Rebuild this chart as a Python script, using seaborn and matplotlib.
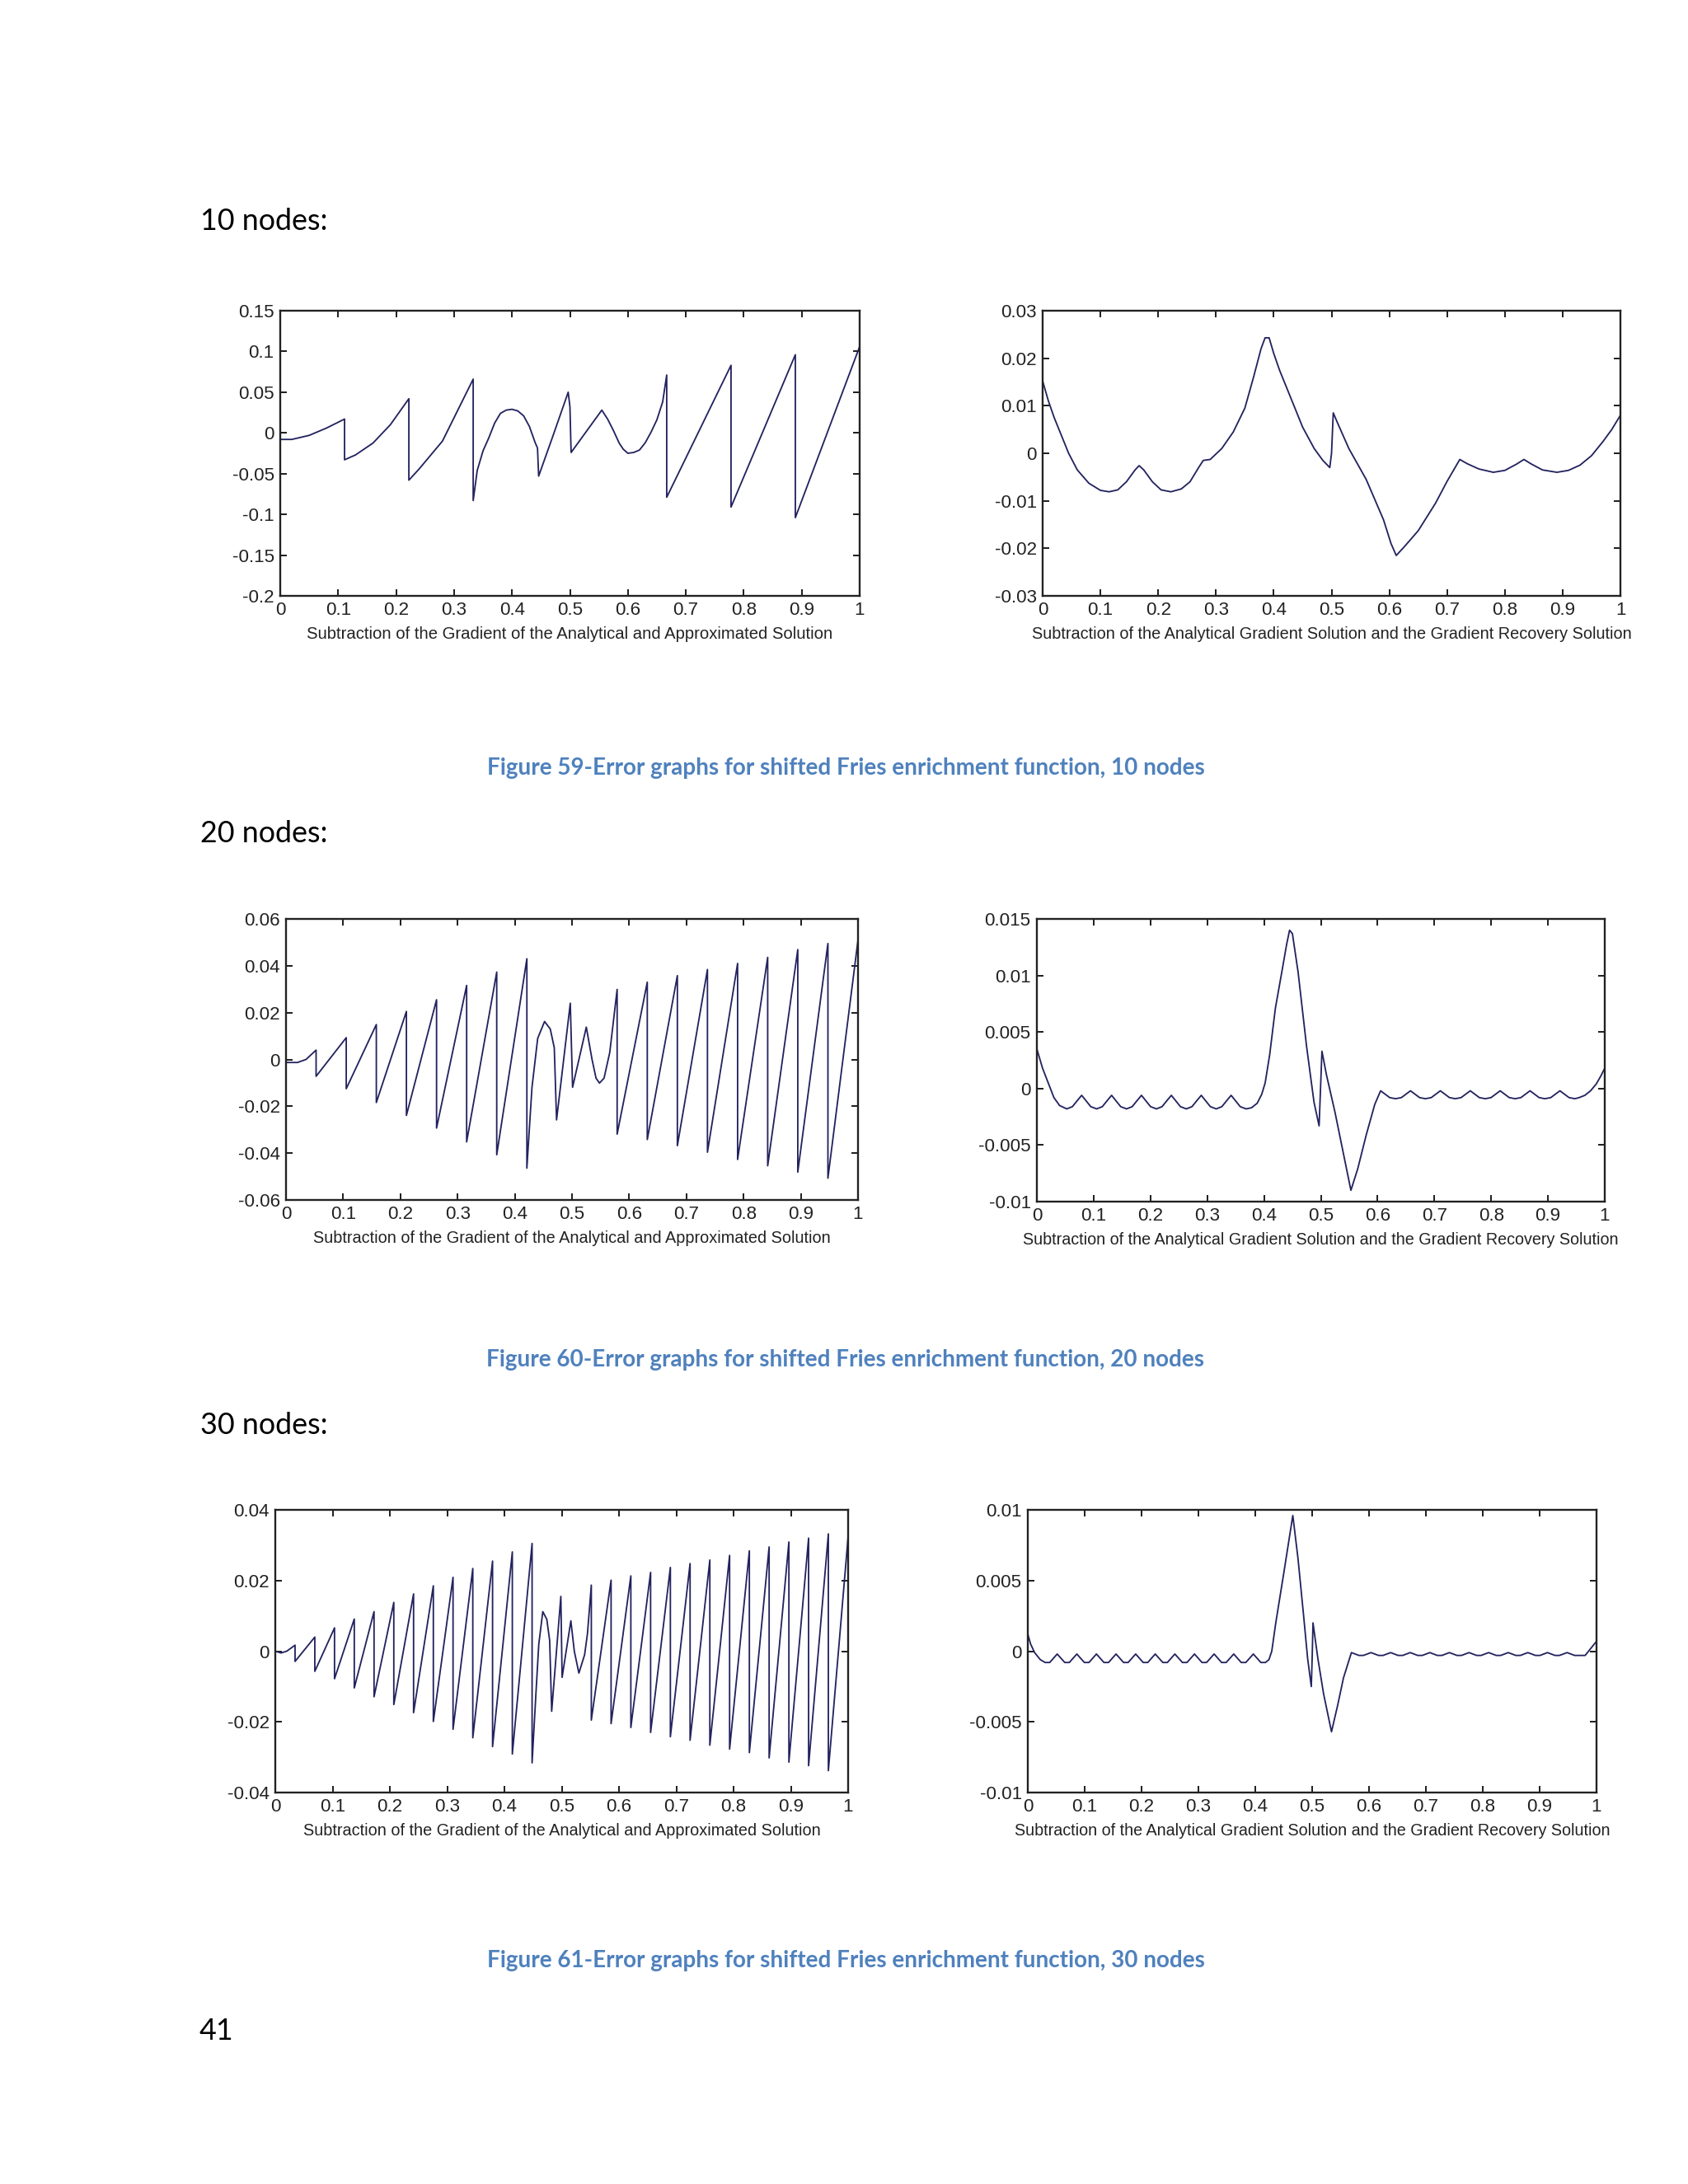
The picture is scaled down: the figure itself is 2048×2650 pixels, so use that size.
import numpy as np
import matplotlib
matplotlib.use("Agg")
import matplotlib.pyplot as plt
import seaborn as sns

# values (x, error)
grad_10 = [
    (0.0, -0.008), (0.02, -0.008), (0.05, -0.003), (0.08, 0.006), (0.111, 0.017),
    (0.111, -0.033), (0.13, -0.027), (0.16, -0.0125), (0.19, 0.01), (0.222, 0.042),
    (0.222, -0.058), (0.24, -0.044), (0.28, -0.01), (0.333, 0.066),
    (0.333, -0.083), (0.34, -0.046), (0.35, -0.022), (0.36, -0.006), (0.37, 0.012),
    (0.38, 0.024), (0.39, 0.028), (0.40, 0.029), (0.41, 0.027), (0.42, 0.021),
    (0.43, 0.008), (0.44, -0.012), (0.444, -0.0185),
    (0.446, -0.053), (0.47, -0.005), (0.497, 0.05), (0.5, 0.032), (0.502, -0.024),
    (0.555, 0.028), (0.565, 0.017), (0.575, 0.003), (0.585, -0.0125), (0.592, -0.02),
    (0.60, -0.025), (0.61, -0.024), (0.62, -0.021), (0.63, -0.012),
    (0.64, 0.001), (0.65, 0.016), (0.66, 0.038), (0.667, 0.071),
    (0.667, -0.079), (0.778, 0.083), (0.778, -0.091), (0.889, 0.096),
    (0.889, -0.104), (1.0, 0.106),
]

recov_10 = [
    (0.0, 0.0152), (0.01, 0.011), (0.02, 0.0075), (0.03, 0.0045), (0.045, 0.0),
    (0.06, -0.0035), (0.08, -0.0063), (0.10, -0.0078), (0.115, -0.0081), (0.13, -0.0077),
    (0.145, -0.006), (0.16, -0.0035), (0.167, -0.0026), (0.175, -0.0035), (0.19, -0.006),
    (0.205, -0.0077), (0.222, -0.0081), (0.24, -0.0075), (0.255, -0.006), (0.27, -0.003),
    (0.278, -0.0015), (0.29, -0.0013), (0.31, 0.001), (0.33, 0.0045), (0.35, 0.0095),
    (0.365, 0.016), (0.378, 0.022), (0.385, 0.0243), (0.392, 0.0243), (0.40, 0.021),
    (0.41, 0.0175), (0.43, 0.0115), (0.45, 0.0055), (0.47, 0.001), (0.485, -0.0015),
    (0.497, -0.003), (0.50, 0.0), (0.503, 0.0085), (0.51, 0.0065), (0.53, 0.001),
    (0.56, -0.0055), (0.59, -0.014), (0.603, -0.019), (0.612, -0.0215), (0.625, -0.0198),
    (0.65, -0.0163), (0.68, -0.0105), (0.70, -0.0059), (0.722, -0.0013), (0.735, -0.0022),
    (0.755, -0.0033), (0.78, -0.004), (0.80, -0.0036), (0.82, -0.0023), (0.833, -0.0013),
    (0.845, -0.0022), (0.865, -0.0035), (0.89, -0.004), (0.91, -0.0036), (0.93, -0.0025),
    (0.95, -0.0005), (0.97, 0.0025), (0.985, 0.005), (1.0, 0.008),
]

grad_20 = [
    (0.0, -0.0013), (0.02, -0.0013), (0.035, 0.0), (0.0526, 0.004),
    (0.0526, -0.0072), (0.1053, 0.0093), (0.1053, -0.0125), (0.1579, 0.0149),
    (0.1579, -0.0184), (0.2105, 0.0205), (0.2105, -0.0239), (0.2632, 0.0255),
    (0.2632, -0.0293), (0.3158, 0.0316), (0.3158, -0.0352), (0.3684, 0.0373),
    (0.3684, -0.0407), (0.4211, 0.043), (0.4211, -0.0464),
    (0.43, -0.012), (0.44, 0.009), (0.452, 0.0162), (0.462, 0.013), (0.469, 0.005),
    (0.473, -0.0258), (0.497, 0.024), (0.501, -0.0119), (0.525, 0.0138),
    (0.535, 0.0), (0.542, -0.008), (0.548, -0.0101), (0.556, -0.008), (0.566, 0.003),
    (0.5789, 0.0299), (0.5789, -0.0319), (0.6316, 0.033), (0.6316, -0.0342),
    (0.6842, 0.0358), (0.6842, -0.0368), (0.7368, 0.0384), (0.7368, -0.0396),
    (0.7895, 0.041), (0.7895, -0.0427), (0.8421, 0.0436), (0.8421, -0.0454),
    (0.8947, 0.0469), (0.8947, -0.0481), (0.9474, 0.0495), (0.9474, -0.0507),
    (1.0, 0.051),
]

recov_20 = [
    (0.0, 0.0035), (0.01, 0.0018), (0.02, 0.0005), (0.03, -0.0008), (0.04, -0.0015),
    (0.0526, -0.0018), (0.0626, -0.0016), (0.0706, -0.0011), (0.0789, -0.0006),
    (0.0869, -0.0011), (0.0949, -0.0016), (0.1053, -0.0018), (0.1153, -0.0016),
    (0.1233, -0.0011), (0.1316, -0.0006), (0.1396, -0.0011), (0.1476, -0.0016),
    (0.1579, -0.0018), (0.1679, -0.0016), (0.1759, -0.0011), (0.1842, -0.0006),
    (0.1922, -0.0011), (0.2002, -0.0016), (0.2105, -0.0018), (0.2205, -0.0016),
    (0.2285, -0.0011), (0.2368, -0.0006), (0.2448, -0.0011), (0.2528, -0.0016),
    (0.2632, -0.0018), (0.2732, -0.0016), (0.2812, -0.0011), (0.2895, -0.0006),
    (0.2975, -0.0011), (0.3055, -0.0016), (0.3158, -0.0018), (0.3258, -0.0016),
    (0.3338, -0.0011), (0.3421, -0.0006), (0.3501, -0.0011), (0.3581, -0.0016),
    (0.3684, -0.0018), (0.378, -0.0017), (0.388, -0.0013), (0.396, -0.0005),
    (0.402, 0.0005), (0.41, 0.003), (0.42, 0.0071), (0.432, 0.0105), (0.44, 0.0128),
    (0.445, 0.014), (0.45, 0.0137), (0.46, 0.0103), (0.475, 0.0037), (0.488, -0.0012),
    (0.497, -0.0033), (0.502, 0.0033), (0.51, 0.0012), (0.525, -0.0021), (0.54, -0.0058),
    (0.553, -0.009), (0.565, -0.0071), (0.58, -0.0041), (0.595, -0.0014),
    (0.6053, -0.0002), (0.6133, -0.0005), (0.6213, -0.0008), (0.6316, -0.0009),
    (0.6419, -0.0008), (0.6499, -0.0005), (0.6579, -0.0002), (0.6659, -0.0005),
    (0.6739, -0.0008), (0.6842, -0.0009), (0.6945, -0.0008), (0.7025, -0.0005),
    (0.7105, -0.0002), (0.7185, -0.0005), (0.7265, -0.0008), (0.7368, -0.0009),
    (0.7471, -0.0008), (0.7551, -0.0005), (0.7632, -0.0002), (0.7712, -0.0005),
    (0.7792, -0.0008), (0.7895, -0.0009), (0.7998, -0.0008), (0.8078, -0.0005),
    (0.8158, -0.0002), (0.8238, -0.0005), (0.8318, -0.0008), (0.8421, -0.0009),
    (0.8524, -0.0008), (0.8604, -0.0005), (0.8684, -0.0002), (0.8764, -0.0005),
    (0.8844, -0.0008), (0.8947, -0.0009), (0.905, -0.0008), (0.913, -0.0005),
    (0.9211, -0.0002), (0.9291, -0.0005), (0.9371, -0.0008), (0.9474, -0.0009),
    (0.955, -0.0008), (0.965, -0.0006), (0.975, -0.0002), (0.985, 0.0004),
    (0.993, 0.0011), (1.0, 0.0018),
]

grad_30 = [
    (0.0, 0.0), (0.01, -0.0005), (0.02, 0.0), (0.0345, 0.0017),
    (0.0345, -0.0029), (0.069, 0.004), (0.069, -0.0057), (0.1034, 0.0066),
    (0.1034, -0.0078), (0.1379, 0.0091), (0.1379, -0.0104), (0.1724, 0.0112),
    (0.1724, -0.0129), (0.2069, 0.0138), (0.2069, -0.0151), (0.2414, 0.0162),
    (0.2414, -0.0174), (0.2759, 0.0185), (0.2759, -0.0199), (0.3103, 0.0209),
    (0.3103, -0.0221), (0.3448, 0.0234), (0.3448, -0.0245), (0.3793, 0.0255),
    (0.3793, -0.027), (0.4138, 0.0281), (0.4138, -0.0291), (0.4483, 0.0305),
    (0.4483, -0.0316), (0.455, -0.012), (0.46, 0.002), (0.467, 0.0112), (0.474, 0.009),
    (0.479, 0.003), (0.4825, -0.017), (0.4985, 0.0155), (0.5007, -0.0074),
    (0.516, 0.0086), (0.522, 0.0), (0.53, -0.0062), (0.54, -0.001), (0.545, 0.005),
    (0.5517, 0.0187), (0.5517, -0.0195), (0.5862, 0.0201), (0.5862, -0.0205),
    (0.6207, 0.0213), (0.6207, -0.0216), (0.6552, 0.0223), (0.6552, -0.023),
    (0.6897, 0.0237), (0.6897, -0.0242), (0.7241, 0.0248), (0.7241, -0.0252),
    (0.7586, 0.0258), (0.7586, -0.0266), (0.7931, 0.0271), (0.7931, -0.0277),
    (0.8276, 0.0284), (0.8276, -0.0287), (0.8621, 0.0295), (0.8621, -0.0302),
    (0.8966, 0.0309), (0.8966, -0.0314), (0.931, 0.032), (0.931, -0.0324),
    (0.9655, 0.0332), (0.9655, -0.0338), (1.0, 0.0324),
]

recov_30 = [
    (0.0, 0.0012), (0.005, 0.0005), (0.012, -0.0001), (0.022, -0.0006),
    (0.0305, -0.0008), (0.0385, -0.0008), (0.0517, -0.0002),
    (0.065, -0.0008), (0.073, -0.0008), (0.0862, -0.0002),
    (0.0995, -0.0008), (0.1075, -0.0008), (0.1207, -0.0002),
    (0.1339, -0.0008), (0.1419, -0.0008), (0.1552, -0.0002),
    (0.1684, -0.0008), (0.1764, -0.0008), (0.1897, -0.0002),
    (0.2029, -0.0008), (0.2109, -0.0008), (0.2241, -0.0002),
    (0.2374, -0.0008), (0.2454, -0.0008), (0.2586, -0.0002),
    (0.2719, -0.0008), (0.2799, -0.0008), (0.2931, -0.0002),
    (0.3063, -0.0008), (0.3143, -0.0008), (0.3276, -0.0002),
    (0.3408, -0.0008), (0.3488, -0.0008), (0.3621, -0.0002),
    (0.3753, -0.0008), (0.3833, -0.0008), (0.3966, -0.0002),
    (0.4098, -0.0008), (0.4178, -0.0008), (0.424, -0.0006), (0.429, 0.0),
    (0.436, 0.002), (0.45, 0.0055), (0.466, 0.0096), (0.475, 0.0066), (0.485, 0.0025),
    (0.492, -0.0005), (0.4985, -0.0025), (0.5, -0.0005), (0.5015, 0.002),
    (0.51, -0.0005), (0.52, -0.003), (0.534, -0.0057), (0.545, -0.0038),
    (0.555, -0.0019), (0.569, -0.0001),
    (0.5822, -0.0003), (0.5902, -0.0003), (0.6034, -0.0001),
    (0.6167, -0.0003), (0.6247, -0.0003), (0.6379, -0.0001),
    (0.6512, -0.0003), (0.6592, -0.0003), (0.6724, -0.0001),
    (0.6857, -0.0003), (0.6937, -0.0003), (0.7069, -0.0001),
    (0.7201, -0.0003), (0.7281, -0.0003), (0.7414, -0.0001),
    (0.7546, -0.0003), (0.7626, -0.0003), (0.7759, -0.0001),
    (0.7891, -0.0003), (0.7971, -0.0003), (0.8103, -0.0001),
    (0.8236, -0.0003), (0.8316, -0.0003), (0.8448, -0.0001),
    (0.8581, -0.0003), (0.8661, -0.0003), (0.8793, -0.0001),
    (0.8926, -0.0003), (0.9006, -0.0003), (0.9138, -0.0001),
    (0.927, -0.0003), (0.935, -0.0003), (0.9483, -0.0001),
    (0.9615, -0.0003), (0.9695, -0.0003), (0.98, -0.0003), (0.99, 0.0002),
    (1.0, 0.0007),
]

x_ticks = [0, 0.1, 0.2, 0.3, 0.4, 0.5, 0.6, 0.7, 0.8, 0.9, 1]
x_tick_labels = ['0', '0.1', '0.2', '0.3', '0.4', '0.5', '0.6', '0.7', '0.8', '0.9', '1']

yt_grad_10 = [-0.2, -0.15, -0.1, -0.05, 0, 0.05, 0.1, 0.15]
yl_grad_10 = ['-0.2', '-0.15', '-0.1', '-0.05', '0', '0.05', '0.1', '0.15']
yt_recov_10 = [-0.03, -0.02, -0.01, 0, 0.01, 0.02, 0.03]
yl_recov_10 = ['-0.03', '-0.02', '-0.01', '0', '0.01', '0.02', '0.03']
yt_grad_20 = [-0.06, -0.04, -0.02, 0, 0.02, 0.04, 0.06]
yl_grad_20 = ['-0.06', '-0.04', '-0.02', '0', '0.02', '0.04', '0.06']
yt_recov_20 = [-0.01, -0.005, 0, 0.005, 0.01, 0.015]
yl_recov_20 = ['-0.01', '-0.005', '0', '0.005', '0.01', '0.015']
yt_grad_30 = [-0.04, -0.02, 0, 0.02, 0.04]
yl_grad_30 = ['-0.04', '-0.02', '0', '0.02', '0.04']
yt_recov_30 = [-0.01, -0.005, 0, 0.005, 0.01]
yl_recov_30 = ['-0.01', '-0.005', '0', '0.005', '0.01']

label_grad = 'Subtraction of the Gradient of the Analytical and Approximated Solution'
label_recov = 'Subtraction of the Analytical Gradient Solution and the Gradient Recovery Solution'

headers = ['10 nodes:', '20 nodes:', '30 nodes:']
captions = ['Figure 59-Error graphs for shifted Fries enrichment function, 10 nodes',
            'Figure 60-Error graphs for shifted Fries enrichment function, 20 nodes',
            'Figure 61-Error graphs for shifted Fries enrichment function, 30 nodes']
page_number = '41'

sns.set_theme(style="ticks")
plt.rcParams['font.family'] = ['Liberation Sans Narrow', 'Liberation Sans', 'DejaVu Sans']

W, H = 2048, 2650
DPI = 241
fig = plt.figure(figsize=(W / DPI, H / DPI), dpi=DPI, facecolor='white')

LINE = '#23235f'
TICK_FONT = ['Liberation Sans Narrow', 'Liberation Sans', 'DejaVu Sans']


def rect(l, r, t, b):
    return [l / W, 1 - b / H, (r - l) / W, (b - t) / H]


def draw(pos, pts, ylim, yt, yl, xlabel):
    ax = fig.add_axes(rect(*pos))
    xs = [p[0] for p in pts]
    ys = [p[1] for p in pts]
    sns.lineplot(x=xs, y=ys, ax=ax, sort=False, estimator=None, color=LINE, linewidth=0.55)
    ax.set_xlim(0, 1)
    ax.set_ylim(*ylim)
    ax.set_xticks(x_ticks)
    ax.set_xticklabels(x_tick_labels, family=TICK_FONT)
    ax.set_yticks(yt)
    ax.set_yticklabels(yl, family=TICK_FONT)
    ax.tick_params(direction='in', top=True, right=True, length=2.3, width=0.6,
                   labelsize=6.7, pad=2.2, colors='#222222')
    for s in ax.spines.values():
        s.set_linewidth(0.7)
        s.set_color('#222222')
        s.set_visible(True)
    ax.set_xlabel(xlabel, fontsize=6.2, family=TICK_FONT, labelpad=2.5, color='#222222')
    ax.set_facecolor('white')
    return ax


axes = [
    draw((340, 1043, 377, 723), grad_10, (-0.2, 0.15), yt_grad_10, yl_grad_10, label_grad),
    draw((1265, 1966, 377, 723), recov_10, (-0.03, 0.03), yt_recov_10, yl_recov_10, label_recov),
    draw((347, 1041, 1115, 1456), grad_20, (-0.06, 0.06), yt_grad_20, yl_grad_20, label_grad),
    draw((1258, 1947, 1115, 1458), recov_20, (-0.01, 0.015), yt_recov_20, yl_recov_20, label_recov),
    draw((334, 1029, 1832, 2175), grad_30, (-0.04, 0.04), yt_grad_30, yl_grad_30, label_grad),
    draw((1247, 1937, 1832, 2175), recov_30, (-0.01, 0.01), yt_recov_30, yl_recov_30, label_recov),
]
label_widths = [636, 725, 628, 722, 628, 722]

# page text
head_y = [279, 1022, 1740]
cap_y = [940, 1658, 2387]
texts = []
for h, yy in zip(headers, head_y):
    t = fig.text(243 / W, 1 - yy / H, h, fontsize=11, family=['Lato', 'DejaVu Sans'],
                 va='baseline', ha='left', color='black')
    texts.append((t, 155))
for c, yy in zip(captions, cap_y):
    t = fig.text(1026 / W, 1 - yy / H, c, fontsize=9, family=['Lato', 'DejaVu Sans'],
                 fontweight='bold', va='baseline', ha='center', color='#4F81BD')
    texts.append((t, 873))
for ax, lw in zip(axes, label_widths):
    texts.append((ax.xaxis.label, lw))
t = fig.text(242 / W, 1 - 2475 / H, page_number, fontsize=11, family=['Lato', 'DejaVu Sans'],
             va='baseline', ha='left', color='black')

# scale the text to the widths seen on the page
fig.canvas.draw()
r = fig.canvas.get_renderer()
for tt, target in texts:
    w = tt.get_window_extent(r).width
    tt.set_fontsize(tt.get_fontsize() * target / w)
t.set_fontsize(texts[0][0].get_fontsize())

fig.savefig('out.png', dpi=DPI, facecolor='white')
